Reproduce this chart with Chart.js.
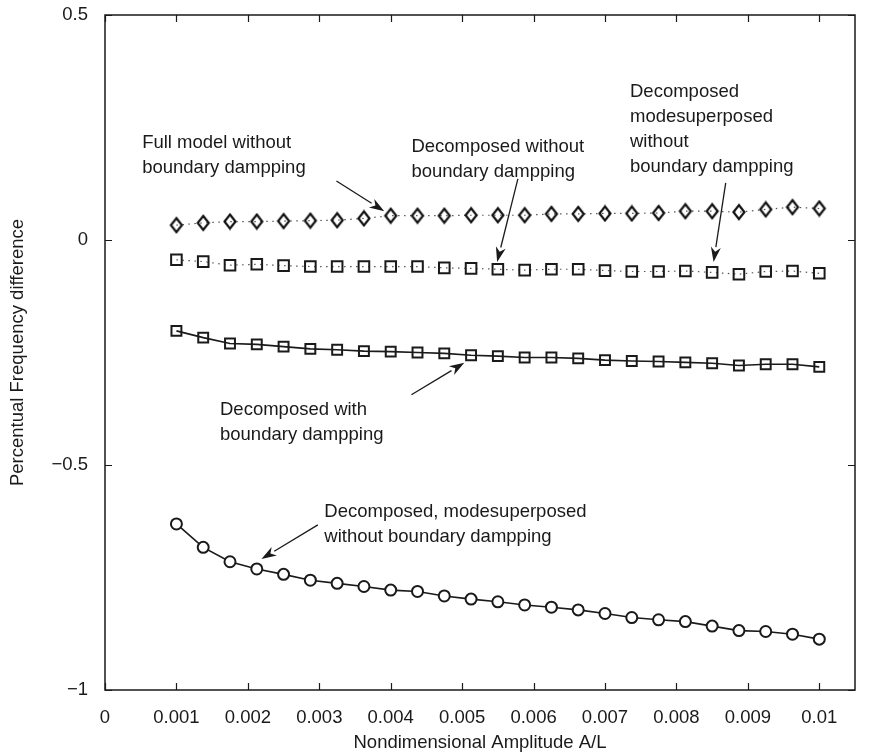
<!DOCTYPE html>
<html>
<head>
<meta charset="utf-8">
<script src="https://cdn.jsdelivr.net/npm/chart.js@4.4.1/dist/chart.umd.min.js"></script>
<style>
  html, body { margin: 0; padding: 0; background: #fff; }
  #wrap { width: 882px; height: 754px; }
</style>
</head>
<body>
<div id="wrap"><canvas id="chart" width="882" height="754"></canvas></div>
<script>
/* DATA */
const amplitude = [
  0.001, 0.001375, 0.00175, 0.002125, 0.0025, 0.002875, 0.00325, 0.003625,
  0.004, 0.004375, 0.00475, 0.005125, 0.0055, 0.005875, 0.00625, 0.006625,
  0.007, 0.007375, 0.00775, 0.008125, 0.0085, 0.008875, 0.00925, 0.009625, 0.01
];

const fullModel = [
  0.033, 0.038, 0.041, 0.041, 0.042, 0.043, 0.044, 0.048, 0.054, 0.054,
  0.054, 0.055, 0.055, 0.055, 0.058, 0.058, 0.059, 0.059, 0.060, 0.064,
  0.064, 0.062, 0.068, 0.073, 0.070
];

const decompNoDamp = [
  -0.044, -0.048, -0.056, -0.054, -0.057, -0.059, -0.059, -0.059, -0.059, -0.059,
  -0.062, -0.063, -0.065, -0.067, -0.065, -0.065, -0.068, -0.070, -0.070, -0.069,
  -0.072, -0.076, -0.070, -0.069, -0.074
];

const decompDamp = [
  -0.202, -0.217, -0.230, -0.232, -0.237, -0.242, -0.244, -0.247, -0.248, -0.250,
  -0.252, -0.256, -0.258, -0.261, -0.261, -0.263, -0.267, -0.269, -0.270, -0.272,
  -0.274, -0.279, -0.276, -0.276, -0.282
];

const modeSuperposed = [
  -0.631, -0.683, -0.715, -0.731, -0.743, -0.756, -0.763, -0.770, -0.778, -0.781,
  -0.791, -0.798, -0.804, -0.811, -0.816, -0.822, -0.830, -0.839, -0.844, -0.848,
  -0.858, -0.868, -0.870, -0.876, -0.887
];

const xTicks = [0, 0.001, 0.002, 0.003, 0.004, 0.005, 0.006, 0.007, 0.008, 0.009, 0.01];
const yTicks = [-1, -0.5, 0, 0.5];
const yTickLabels = ["\u22121", "\u22120.5", "0", "0.5"];

/* annotation texts, positions in data units */
const notes = [
  { lines: ["Full model without", "boundary dampping"], x: 0.00052, y: 0.215,
    from: [0.00324, 0.131], to: [0.00391, 0.064] },
  { lines: ["Decomposed without", "boundary dampping"], x: 0.00429, y: 0.207,
    from: [0.00578, 0.136], to: [0.00549, -0.049] },
  { lines: ["Decomposed", "modesuperposed", "without", "boundary dampping"], x: 0.00735, y: 0.329,
    from: [0.00869, 0.127], to: [0.00852, -0.049] },
  { lines: ["Decomposed with", "boundary dampping"], x: 0.00161, y: -0.378,
    from: [0.00429, -0.344], to: [0.00503, -0.273] },
  { lines: ["Decomposed, modesuperposed", "without boundary dampping"], x: 0.00307, y: -0.604,
    from: [0.00298, -0.633], to: [0.00219, -0.709] }
];

/* HELPERS */
const INK = "#1a1a1a";
const FONT = "'Liberation Sans', Arial, Helvetica, sans-serif";
const FS = 18.5;
const pts = ys => ys.map((y, i) => ({ x: amplitude[i], y }));

function diamondMarker() {
  const c = document.createElement("canvas");
  c.width = 16; c.height = 18;
  const g = c.getContext("2d");
  g.strokeStyle = "#111";
  g.lineWidth = 2.2;
  g.beginPath();
  g.moveTo(8, 2); g.lineTo(13.5, 9); g.lineTo(8, 16); g.lineTo(2.5, 9);
  g.closePath();
  g.stroke();
  return c;
}

const whiteBg = {
  id: "whiteBg",
  beforeDraw(chart) {
    const c = chart.ctx;
    c.save();
    c.fillStyle = "#fff";
    c.fillRect(0, 0, chart.width, chart.height);
    c.restore();
  }
};

const frame = {
  id: "frame",
  afterDraw(chart) {
    const c = chart.ctx;
    const a = chart.chartArea;
    const xs = chart.scales.x, ys = chart.scales.y;
    c.save();
    c.strokeStyle = INK;
    c.lineWidth = 1.5;
    c.strokeRect(a.left, a.top, a.right - a.left, a.bottom - a.top);
    c.lineWidth = 1.2;
    c.beginPath();
    xTicks.forEach(v => {
      const p = Math.round(xs.getPixelForValue(v)) + 0.5;
      c.moveTo(p, a.bottom); c.lineTo(p, a.bottom - 7);
      c.moveTo(p, a.top); c.lineTo(p, a.top + 7);
    });
    yTicks.forEach(v => {
      const p = Math.round(ys.getPixelForValue(v)) + 0.5;
      c.moveTo(a.left, p); c.lineTo(a.left + 7, p);
      c.moveTo(a.right, p); c.lineTo(a.right - 7, p);
    });
    c.stroke();

    /* notes + arrows */
    c.fillStyle = INK;
    c.font = FS + "px " + FONT;
    c.textBaseline = "middle";
    c.textAlign = "left";
    notes.forEach(n => {
      const tx = xs.getPixelForValue(n.x), ty = ys.getPixelForValue(n.y);
      n.lines.forEach((l, i) => c.fillText(l, tx, ty + i * 25));
      const x0 = xs.getPixelForValue(n.from[0]), y0 = ys.getPixelForValue(n.from[1]);
      const x1 = xs.getPixelForValue(n.to[0]), y1 = ys.getPixelForValue(n.to[1]);
      const ang = Math.atan2(y1 - y0, x1 - x0);
      const len = 15, hw = 5;
      const bx = x1 - len * Math.cos(ang), by = y1 - len * Math.sin(ang);
      c.lineWidth = 1.3;
      c.beginPath();
      c.moveTo(x0, y0); c.lineTo(bx, by);
      c.stroke();
      c.beginPath();
      c.moveTo(x1, y1);
      c.lineTo(bx + hw * Math.sin(ang), by - hw * Math.cos(ang));
      c.lineTo(x1 - 0.7 * len * Math.cos(ang), y1 - 0.7 * len * Math.sin(ang));
      c.lineTo(bx - hw * Math.sin(ang), by + hw * Math.cos(ang));
      c.closePath();
      c.fill();
    });
    c.restore();
  }
};

/* CHART */
new Chart(document.getElementById("chart"), {
  type: "scatter",
  data: {
    datasets: [
      {
        data: pts(fullModel), showLine: true,
        borderColor: "#555", borderWidth: 1.2, borderDash: [1.5, 4.5],
        pointStyle: diamondMarker(), pointRadius: 7
      },
      {
        data: pts(decompNoDamp), showLine: true,
        borderColor: "#555", borderWidth: 1.2, borderDash: [1.5, 4.5],
        pointStyle: "rect", pointRadius: 7.5, pointBorderWidth: 2,
        pointBorderColor: INK, pointBackgroundColor: "rgba(0,0,0,0)"
      },
      {
        data: pts(decompDamp), showLine: true,
        borderColor: INK, borderWidth: 1.6,
        pointStyle: "rect", pointRadius: 7, pointBorderWidth: 2,
        pointBorderColor: INK, pointBackgroundColor: "rgba(0,0,0,0)"
      },
      {
        data: pts(modeSuperposed), showLine: true,
        borderColor: INK, borderWidth: 1.6,
        pointStyle: "circle", pointRadius: 5.5, pointBorderWidth: 2,
        pointBorderColor: INK, pointBackgroundColor: "#fff"
      }
    ]
  },
  options: {
    responsive: false,
    animation: false,
    layout: { padding: { top: 15, right: 27, left: 0, bottom: 0 } },
    plugins: { legend: { display: false }, tooltip: { enabled: false } },
    scales: {
      x: {
        type: "linear", min: 0, max: 0.0105,
        grid: { display: false }, border: { display: false },
        afterBuildTicks: s => { s.ticks = xTicks.map(v => ({ value: v })); },
        afterFit: s => { s.height = 64; },
        ticks: {
          color: INK, padding: 9, maxRotation: 0,
          font: { family: FONT, size: FS },
          callback: v => String(Number(v.toFixed(4)))
        },
        title: {
          display: true, text: "Nondimensional Amplitude A/L", color: INK,
          font: { family: FONT, size: FS }, padding: 0
        }
      },
      y: {
        type: "linear", min: -1, max: 0.5,
        grid: { display: false }, border: { display: false },
        afterBuildTicks: s => { s.ticks = yTicks.map(v => ({ value: v })); },
        afterFit: s => { s.width = 105; s.paddingTop = 0; s.paddingBottom = 0; },
        ticks: {
          color: INK, padding: 9,
          font: { family: FONT, size: FS },
          callback: v => yTickLabels[yTicks.indexOf(v)]
        },
        title: {
          display: true, text: "Percentual Frequency difference", color: INK,
          font: { family: FONT, size: FS }, padding: { top: 7, bottom: 0 }
        }
      }
    }
  },
  plugins: [whiteBg, frame]
});
</script>
</body>
</html>
